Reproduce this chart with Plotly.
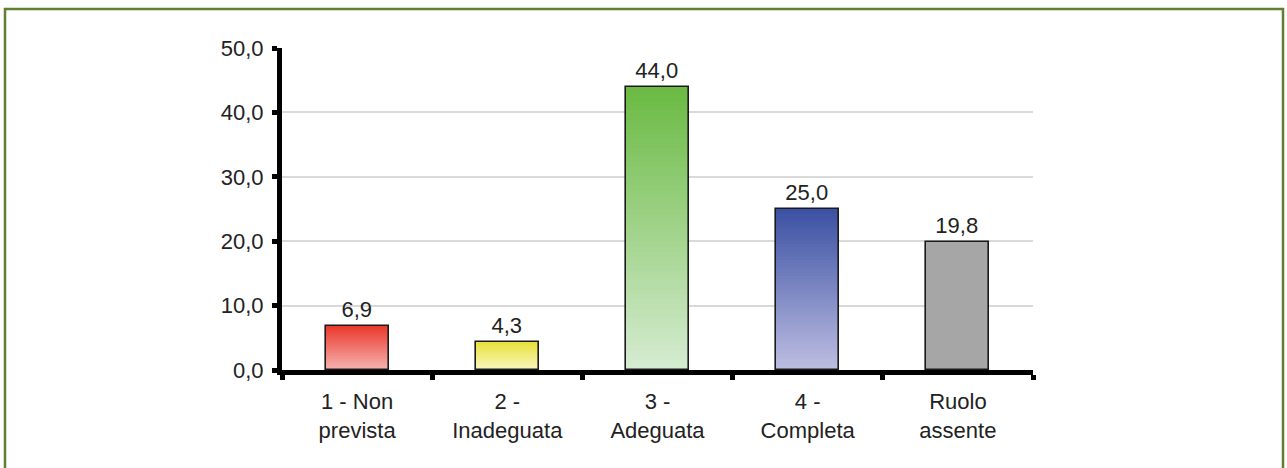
import plotly.graph_objects as go

# Data
categories = ["1 - Non<br>prevista", "2 -<br>Inadeguata", "3 -<br>Adeguata",
              "4 -<br>Completa", "Ruolo<br>assente"]
values = [6.9, 4.3, 44.0, 25.0, 19.8]
y_ticks = [0, 10, 20, 30, 40, 50]

# Gradient colours per bar (top, bottom)
top_colors = [(234, 56, 44), (232, 226, 60), (106, 186, 66), (58, 80, 162), (166, 166, 166)]
bottom_colors = [(246, 182, 180), (250, 246, 196), (214, 236, 210), (190, 190, 226), (166, 166, 166)]

W, H = 1287, 468
ML, MR, MT, MB = 282, 254, 48, 98
BAR_W = 0.42
N_SEG = 60
FONT = "Liberation Sans, Arial, sans-serif"
FS = 22


def mix(c_top, c_bot, t):
    r, g, b = (round(c_bot[i] + (c_top[i] - c_bot[i]) * t) for i in range(3))
    return f"rgb({r},{g},{b})"


fig = go.Figure()

# Gradient fill: each bar split into thin stacked slices
for k in range(N_SEG):
    t = (k + 0.5) / N_SEG
    fig.add_trace(go.Bar(
        x=categories,
        y=[v / N_SEG for v in values],
        base=[v * k / N_SEG for v in values],
        width=BAR_W,
        marker=dict(color=[mix(ct, cb, t) for ct, cb in zip(top_colors, bottom_colors)],
                    line=dict(width=0)),
        hoverinfo="skip",
        showlegend=False,
    ))

# Outline and value labels
fig.add_trace(go.Bar(
    x=categories,
    y=values,
    width=BAR_W,
    marker=dict(color="rgba(0,0,0,0)", line=dict(color="#1a1a1a", width=1.6)),
    texttemplate="%{y:.1f}",
    textposition="outside",
    textfont=dict(size=FS, color="#222222", family=FONT),
    cliponaxis=False,
    showlegend=False,
))

# Frame around the figure
px_to_x = lambda px: (px - ML) / (W - ML - MR)
px_to_y = lambda py: (H - MB - py) / (H - MT - MB)
fig.add_shape(type="rect", xref="paper", yref="paper",
              x0=px_to_x(5), x1=px_to_x(1283), y0=px_to_y(475), y1=px_to_y(9),
              line=dict(color="#5f7f33", width=2.5), fillcolor="rgba(0,0,0,0)",
              layer="below")

fig.update_layout(
    width=W, height=H,
    margin=dict(l=ML, r=MR, t=MT, b=MB),
    barmode="overlay",
    bargap=0,
    separators=",.",
    paper_bgcolor="white",
    plot_bgcolor="white",
    font=dict(family=FONT, size=FS, color="#222222"),
    showlegend=False,
)
fig.update_xaxes(
    type="category",
    range=[-0.5, 4.5],
    showline=True, linecolor="black", linewidth=5,
    ticks="outside", tickson="boundaries", ticklen=5, tickwidth=5, tickcolor="black",
    ticklabelstandoff=8,
    showgrid=False,
    tickfont=dict(size=FS, color="#222222", family=FONT),
)
fig.update_yaxes(
    range=[0, 50],
    tickvals=y_ticks,
    tickformat=".1f",
    showline=True, linecolor="black", linewidth=5,
    ticks="outside", ticklen=5, tickwidth=5, tickcolor="black",
    ticklabelstandoff=4,
    showgrid=True, gridcolor="#d9d9d9", gridwidth=2,
    zeroline=False,
    tickfont=dict(size=FS, color="#222222", family=FONT),
)

fig.write_html("out.html")
